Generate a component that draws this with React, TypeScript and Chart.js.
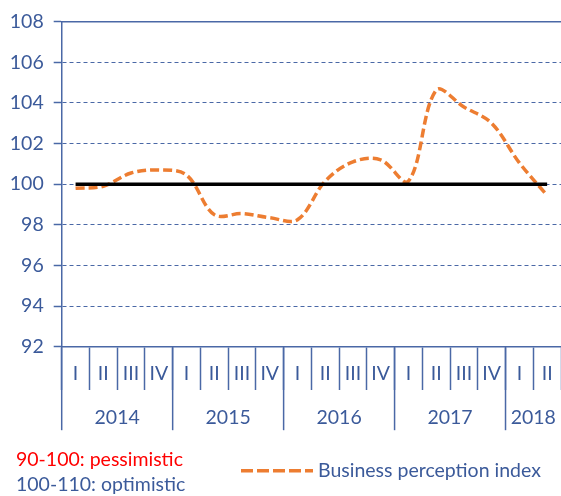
import React, { useEffect, useRef } from "react";
import { Chart, registerables } from "chart.js";

Chart.register(...registerables);

const quarters = ["I", "II", "III", "IV", "I", "II", "III", "IV", "I", "II", "III", "IV", "I", "II", "III", "IV", "I", "II"];
const yearLabels = ["2014", "2015", "2016", "2017", "2018"];
const yearSpans = [4, 4, 4, 4, 2];
const indexValues = [99.8, 99.9, 100.55, 100.7, 100.45, 98.5, 98.55, 98.35, 98.25, 100.15, 101.1, 101.2, 100.15, 104.63, 103.8, 103.0, 101.05, 99.45];
const baselineValues = quarters.map(() => 100);
const yTicks = { min: 92, max: 108, step: 2 };
const seriesLabel = "Business perception index";
const noteLabels = ["90-100: pessimistic", "100-110: optimistic"];

const BLUE = "#3b5a9a";
const GRID = "#4a68a6";
const ORANGE = "#ed7d31";
const FONT = "Lato, 'Open Sans', sans-serif";
const FS = 19.5;

const extrasPlugin = {
  id: "extras",
  afterDraw(chart: any) {
    const { ctx, chartArea, scales } = chart;
    const x = scales.x;
    const y = scales.y;
    ctx.save();
    // solid top line
    const yTop = y.getPixelForValue(yTicks.max);
    ctx.strokeStyle = GRID;
    ctx.lineWidth = 1.5;
    ctx.beginPath();
    ctx.moveTo(chartArea.left, yTop);
    ctx.lineTo(chartArea.right + 5, yTop);
    ctx.stroke();

    // year separators and labels
    const w = x.getPixelForValue(1) - x.getPixelForValue(0);
    let start = 0;
    ctx.font = `${FS}px ${FONT}`;
    ctx.fillStyle = BLUE;
    ctx.textAlign = "center";
    ctx.textBaseline = "middle";
    yearLabels.forEach((yl, i) => {
      const n = yearSpans[i];
      const bx = x.getPixelForValue(start) - w / 2;
      ctx.strokeStyle = GRID;
      ctx.lineWidth = 1.5;
      ctx.beginPath();
      ctx.moveTo(bx, chartArea.bottom);
      ctx.lineTo(bx, chartArea.bottom + 83.5);
      ctx.stroke();
      const cx = (x.getPixelForValue(start) + x.getPixelForValue(start + n - 1)) / 2;
      ctx.fillText(yl, cx, chartArea.bottom + 70.6);
      start += n;
    });

    // notes
    ctx.textAlign = "left";
    ctx.fillStyle = "#ff0000";
    ctx.fillText(noteLabels[0], 16, 459.5);
    ctx.fillStyle = BLUE;
    ctx.fillText(noteLabels[1], 16, 485);

    // legend
    ctx.strokeStyle = ORANGE;
    ctx.lineWidth = 3.5;
    ctx.setLineDash([12, 4]);
    ctx.beginPath();
    ctx.moveTo(241, 470.7);
    ctx.lineTo(313, 470.7);
    ctx.stroke();
    ctx.setLineDash([]);
    ctx.fillStyle = BLUE;
    ctx.fillText(seriesLabel, 318, 471);
    ctx.restore();
  },
};

export default function App() {
  const ref = useRef<HTMLCanvasElement>(null);
  useEffect(() => {
    document.body.style.margin = "0";
    const chart = new Chart(ref.current as HTMLCanvasElement, {
      type: "line",
      data: {
        labels: quarters,
        datasets: [
          {
            label: "100",
            data: baselineValues,
            borderColor: "#000000",
            borderWidth: 3.5,
            pointRadius: 0,
            tension: 0,
            order: 0,
          },
          {
            label: seriesLabel,
            data: indexValues,
            borderColor: ORANGE,
            borderWidth: 3.5,
            borderDash: [9, 4],
            pointRadius: 0,
            tension: 0.35,
            order: 1,
          },
        ],
      },
      options: {
        animation: false,
        responsive: false,
        layout: { padding: { top: 15, right: -2.9, bottom: 59.3, left: 0 } },
        plugins: { legend: { display: false }, tooltip: { enabled: false } },
        scales: {
          x: {
            offset: true,
            grid: {
              offset: true,
              drawOnChartArea: false,
              drawTicks: true,
              tickLength: 43.3,
              tickColor: GRID,
              tickWidth: 1.5,
              color: GRID,
            },
            border: { display: true, color: GRID, width: 1.5 },
            ticks: {
              autoSkip: false,
              maxRotation: 0,
              minRotation: 0,
              padding: -27.5,
              color: BLUE,
              font: { family: FONT, size: FS },
            },
            afterFit: (s: any) => {
              s.height = 90;
            },
          },
          y: {
            min: yTicks.min,
            max: yTicks.max,
            ticks: {
              stepSize: yTicks.step,
              padding: 10,
              color: BLUE,
              font: { family: FONT, size: FS },
            },
            grid: {
              color: GRID,
              lineWidth: 1,
              tickLength: 8,
              tickColor: GRID,
              tickWidth: 1.5,
            },
            border: { display: true, color: GRID, width: 1.5, dash: [4, 3] },
            afterFit: (s: any) => {
              s.width = 61.7;
            },
          },
        },
      },
      plugins: [extrasPlugin],
    });
    return () => chart.destroy();
  }, []);
  return <canvas ref={ref} width={561} height={496} style={{ display: "block" }} />;
}
